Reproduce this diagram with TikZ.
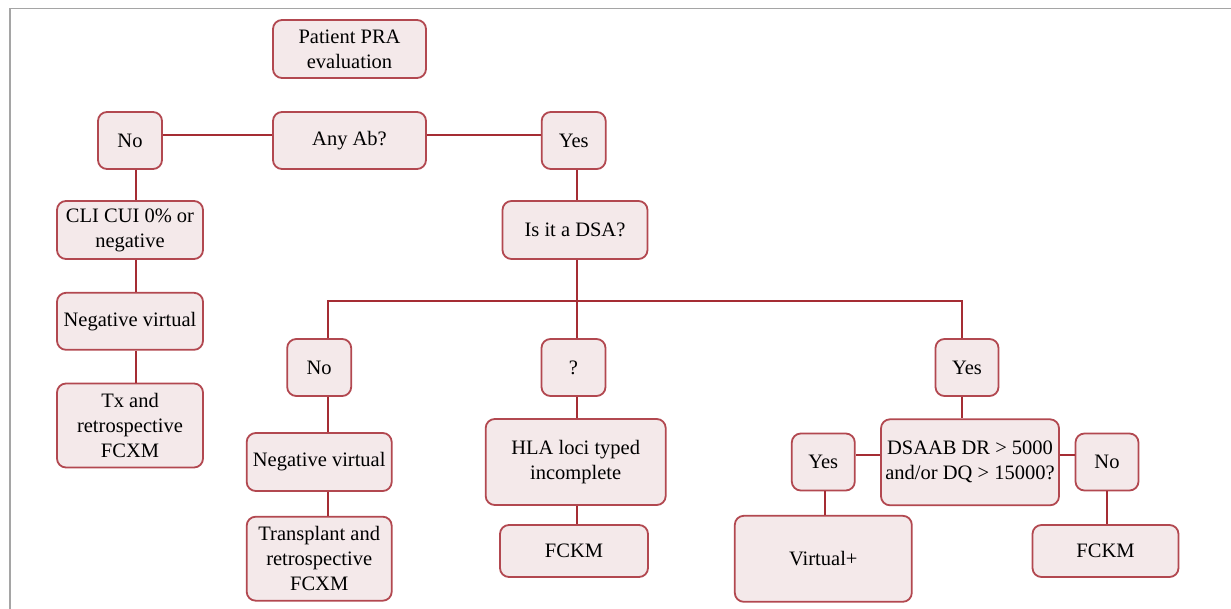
\documentclass[tikz,border=0pt]{standalone}
\usepackage{fontspec}
\setmainfont{Liberation Serif}
\definecolor{boxfill}{RGB}{244,233,234}
\definecolor{boxdraw}{RGB}{178,72,80}
\definecolor{linec}{RGB}{165,45,52}
\definecolor{framec}{RGB}{165,165,165}
\begin{document}
\begin{tikzpicture}[x=1pt,y=-1pt,
  box/.style={draw=boxdraw, fill=boxfill, line width=1.8pt, rounded corners=9pt,
    align=center, inner sep=0pt, font=\fontsize{20.5}{25}\selectfont},
  conn/.style={draw=linec, line width=1.7pt}]
\useasboundingbox (0,0) rectangle (1231,609);
\draw[framec, line width=1.6pt] (10,609) -- (10,8.5) -- (1231,8.5);

\node[box, minimum width=153, minimum height=58] (pra) at (349.5,49) {Patient PRA\\evaluation};
\node[box, minimum width=153, minimum height=57] (anyab) at (349.5,140.5) {Any Ab?};
\node[box, minimum width=64, minimum height=57] (no1) at (130,140.5) {No};
\node[box, minimum width=64, minimum height=57] (yes1) at (573.7,140.5) {Yes};
\node[box, minimum width=145, minimum height=58] (dsa) at (575,230) {Is it a DSA?};
\node[box, minimum width=146, minimum height=58] (cli) at (130,230) {CLI CUI 0\% or\\negative};
\node[box, minimum width=146, minimum height=57] (nv1) at (130,321.3) {Negative virtual};
\node[box, minimum width=146, minimum height=84] (tx) at (130,425.5) {Tx and\\retrospective\\FCXM};
\node[box, minimum width=64, minimum height=57] (no2) at (319.2,367.5) {No};
\node[box, minimum width=64, minimum height=57] (q) at (573.5,367.5) {?};
\node[box, minimum width=63, minimum height=57] (yes2) at (967,367.5) {Yes};
\node[box, minimum width=145, minimum height=58] (nv2) at (319.2,462) {Negative virtual};
\node[box, minimum width=180, minimum height=86] (hla) at (575.7,462) {HLA loci typed\\incomplete};
\node[box, minimum width=178, minimum height=86] (dsaab) at (970,462.3) {DSAAB DR {>} 5000\\and/or DQ {>} 15000?};
\node[box, minimum width=63, minimum height=57] (yes3) at (823.3,462) {Yes};
\node[box, minimum width=63, minimum height=57] (no3) at (1107,462) {No};
\node[box, minimum width=145, minimum height=84] (tp) at (319.2,558.7) {Transplant and\\retrospective\\FCXM};
\node[box, minimum width=148, minimum height=52] (fckm1) at (574,551) {FCKM};
\node[box, minimum width=177, minimum height=86] (virt) at (823.3,558.8) {Virtual+};
\node[box, minimum width=146, minimum height=52] (fckm2) at (1105.5,551) {FCKM};

\coordinate (bus) at (576.7,300.7);

\draw[conn] ([yshift=5.5]no1.east) -- ([yshift=5.5]anyab.west);
\draw[conn] ([yshift=5.5]anyab.east) -- ([yshift=5.5]yes1.west);
\draw[conn] ([xshift=6]no1.south) -- ([xshift=6]cli.north);
\draw[conn] ([xshift=6]cli.south) -- ([xshift=6]nv1.north);
\draw[conn] ([xshift=6]nv1.south) -- ([xshift=6]tx.north);
\draw[conn] ([xshift=3]yes1.south) -- ([xshift=1.7]dsa.north);
\draw[conn] ([xshift=1.7]dsa.south) -- (bus);
\draw[conn] ([xshift=8.5]no2.north) |- (bus) -| ([xshift=-5.3]yes2.north);
\draw[conn] ([xshift=3.2]q.north) -- (bus);
\draw[conn] ([xshift=8.5]no2.south) -- ([xshift=8.5]nv2.north);
\draw[conn] ([xshift=8.5]nv2.south) -- ([xshift=8.5]tp.north);
\draw[conn] ([xshift=3.2]q.south) -- ([xshift=1]hla.north);
\draw[conn] ([xshift=1]hla.south) -- ([xshift=2.7]fckm1.north);
\draw[conn] ([xshift=-5.3]yes2.south) -- ([xshift=-8.3]dsaab.north);
\draw[conn] ([yshift=7.6]dsaab.west) -- ([yshift=7.3]yes3.east);
\draw[conn] ([yshift=7.6]dsaab.east) -- ([yshift=7.3]no3.west);
\draw[conn] ([xshift=1.7]yes3.south) -- ([xshift=1.7]virt.north);
\draw[conn] (no3.south) -- ([xshift=1.5]fckm2.north);
\end{tikzpicture}
\end{document}
